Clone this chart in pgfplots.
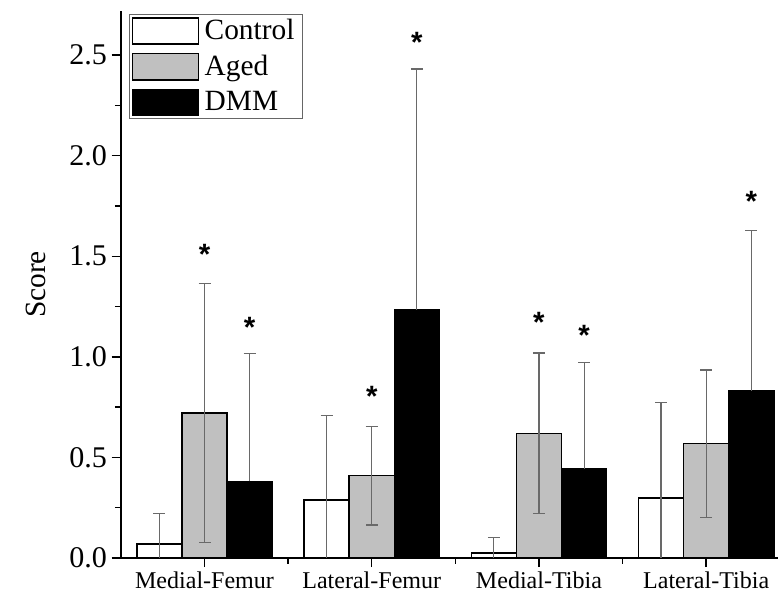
\documentclass[border=0pt]{standalone}
\usepackage{fontspec}
\setmainfont{Liberation Serif}
\newfontfamily\starfont{Liberation Sans}
\usepackage{pgfplots}
\pgfplotsset{compat=1.18}
\definecolor{agedgray}{RGB}{192,192,192}
\definecolor{errgray}{RGB}{105,105,105}

\begin{document}
\begin{tikzpicture}
\begin{axis}[
  scale only axis, width=492pt, height=409.5pt,
  xmin=0.5, xmax=4.43, ymin=0, ymax=2.72,
  axis x line*=bottom, axis y line*=left,
  axis line style={line width=1.1pt},
  xtick={1,2,3,4},
  xticklabels={Medial-Femur,Lateral-Femur,Medial-Tibia,Lateral-Tibia},
  minor xtick={1.5,2.5,3.5},
  ytick={0,0.5,...,2.5}, minor ytick={0.25,0.75,...,2.25},
  yticklabel style={/pgf/number format/fixed, /pgf/number format/fixed zerofill,
    /pgf/number format/precision=1, /pgf/number format/assume math mode=true},
  tick align=outside, major tick length=7pt, minor tick length=4.5pt,
  tick style={line width=1.1pt, black},
  x tick label style={font=\fontsize{18}{22}\selectfont},
  y tick label style={font=\fontsize{22.5}{26}\selectfont},
  ylabel={Score}, ylabel style={font=\fontsize{22}{26}\selectfont}, ylabel shift=11pt,
  legend style={at={(0.012,0.995)}, anchor=north west, draw=black!60, line width=0.6pt,
    font=\fontsize{22}{26}\selectfont, row sep=6pt, inner xsep=2pt, inner ysep=2pt,
    nodes={inner xsep=4pt}},
  legend cell align=left,
  legend image code/.code={\draw[#1] (-2pt,-10pt) rectangle (47.5pt,9.5pt);},
]
% Control
\addplot[forget plot, ybar, bar width=33.8pt, bar shift=-33.8pt, draw=black, fill=white, line width=1.1pt]
  coordinates {(1,0.068) (2,0.288) (3,0.025) (4,0.298)};
% Aged
\addplot[forget plot, ybar, bar width=33.8pt, bar shift=0pt, draw=black, fill=agedgray, line width=1.1pt]
  coordinates {(1,0.721) (2,0.409) (3,0.619) (4,0.568)};
% DMM
\addplot[forget plot, ybar, bar width=33.8pt, bar shift=33.8pt, draw=black, fill=black, line width=1.1pt]
  coordinates {(1,0.380) (2,1.233) (3,0.443) (4,0.830)};
% error bars (drawn at the bar centres)
\addplot[forget plot, draw=none, no markers,
  error bars/.cd, y dir=both, y explicit,
  error bar style={draw=errgray, line width=0.9pt},
  error mark options={draw=errgray, line width=0.9pt, mark size=4.5pt, rotate=90}]
  coordinates {(0.73,0.068) +- (0,0.153) (1.73,0.288) +- (0,0.42) (2.73,0.025) +- (0,0.075) (3.73,0.298) +- (0,0.473)
               (1,0.721) +- (0,0.645) (2,0.409) +- (0,0.245) (3,0.619) +- (0,0.40) (4,0.568) +- (0,0.366)};
\addplot[forget plot, draw=none, no markers,
  error bars/.cd, y dir=plus, y explicit,
  error bar style={draw=errgray, line width=0.9pt},
  error mark options={draw=errgray, line width=0.9pt, mark size=4.5pt, rotate=90}]
  coordinates {(1.27,0.380) +- (0,0.638) (2.27,1.233) +- (0,1.198) (3.27,0.443) +- (0,0.53) (4.27,0.830) +- (0,0.797)};
% significance marks
\addplot[forget plot, draw=none, mark=none, nodes near coords={*},
  every node near coord/.append style={anchor=center, inner sep=0pt,
    font=\starfont\bfseries\fontsize{22}{22}\selectfont}]
  coordinates {(1,1.51) (1.27,1.145) (2,0.805) (2.27,2.563) (3,1.17) (3.27,1.108) (4.27,1.772)};
\addlegendimage{draw=black, fill=white, line width=1pt}
\addlegendimage{draw=black, fill=agedgray, line width=1pt}
\addlegendimage{draw=black, fill=black, line width=1pt}
\legend{Control,Aged,DMM}
\coordinate (bl) at (rel axis cs:-0.184,-0.073);
\coordinate (tr) at (rel axis cs:1.006,1.02);
\end{axis}
\path (bl) rectangle (tr);
\end{tikzpicture}
\end{document}
